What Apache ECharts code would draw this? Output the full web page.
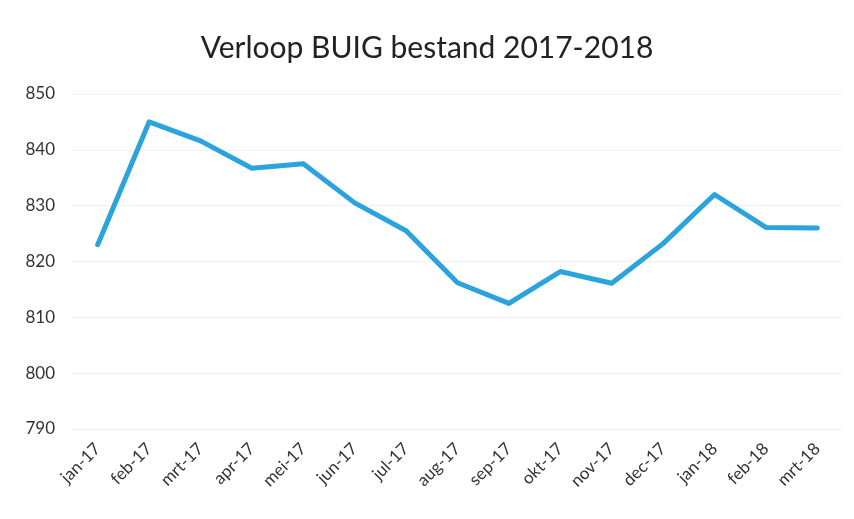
<!DOCTYPE html>
<html>
<head>
<meta charset="utf-8">
<script src="https://cdn.jsdelivr.net/npm/echarts@6/dist/echarts.min.js"></script>
<style>
  html, body { margin: 0; padding: 0; background: #fff; }
  #chart { width: 854px; height: 519px; }
</style>
</head>
<body>
<div id="chart"></div>
<script>
// maanden en aantallen BUIG bestand
const months = ['jan-17', 'feb-17', 'mrt-17', 'apr-17', 'mei-17', 'jun-17', 'jul-17', 'aug-17',
  'sep-17', 'okt-17', 'nov-17', 'dec-17', 'jan-18', 'feb-18', 'mrt-18']
const bestand = [823, 845, 841.6, 836.7, 837.5, 830.5, 825.5, 816.2, 812.5, 818.2, 816.1, 823.2, 832, 826.1, 826]
const yTicks = { min: 790, max: 850, interval: 10 }

const myEcharts = echarts.init(document.getElementById('chart'))
myEcharts.setOption({
  animation: false,
  textStyle: { fontFamily: 'Lato' },
  title: {
    text: 'Verloop BUIG bestand 2017-2018',
    left: 'center',
    top: 28,
    textStyle: { fontFamily: 'Lato', fontSize: 30, fontWeight: 'normal', color: '#222' }
  },
  grid: { left: 72, right: 11, top: 94, bottom: 90 },
  xAxis: {
    type: 'category',
    data: months,
    boundaryGap: true,
    axisLine: { show: false },
    axisTick: { show: false },
    axisLabel: { rotate: 45, fontSize: 17, color: '#333', margin: 17 }
  },
  yAxis: {
    type: 'value',
    min: yTicks.min,
    max: yTicks.max,
    interval: yTicks.interval,
    axisLine: { show: false },
    axisTick: { show: false },
    axisLabel: { fontSize: 17, color: '#333', margin: 17, align: 'right' },
    splitLine: { lineStyle: { color: '#eef2f2', width: 1 } }
  },
  series: [
    {
      type: 'line',
      data: bestand,
      symbol: 'none',
      lineStyle: { color: '#2ba3dc', width: 5, cap: 'round', join: 'round' }
    }
  ]
})
window.addEventListener('resize', () => {
  myEcharts.resize()
})
</script>
</body>
</html>
